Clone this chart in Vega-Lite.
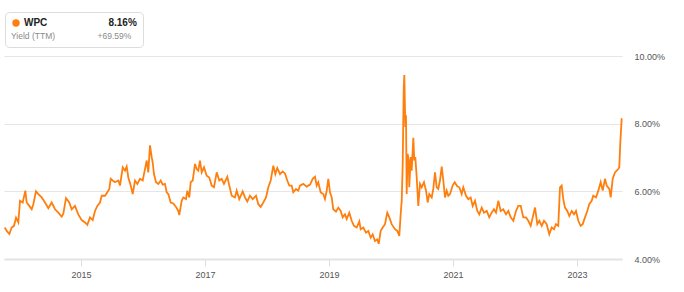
{
  "$schema": "https://vega.github.io/schema/vega-lite/v6.json",
  "width": 618,
  "height": 203,
  "autosize": {"type": "none"},
  "padding": {"left": 4, "top": 56, "right": 62, "bottom": 33},
  "background": "white",
  "config": {"view": {"stroke": null}, "font": "Liberation Sans"},
  "data": {"values": [
    {"t": 2013.769, "y": 4.93, "s": "WPC"},
    {"t": 2013.802, "y": 4.83, "s": "WPC"},
    {"t": 2013.844, "y": 4.74, "s": "WPC"},
    {"t": 2013.882, "y": 4.93, "s": "WPC"},
    {"t": 2013.919, "y": 4.98, "s": "WPC"},
    {"t": 2013.952, "y": 5.22, "s": "WPC"},
    {"t": 2013.989, "y": 5.08, "s": "WPC"},
    {"t": 2014.016, "y": 5.72, "s": "WPC"},
    {"t": 2014.060, "y": 5.67, "s": "WPC"},
    {"t": 2014.102, "y": 6.02, "s": "WPC"},
    {"t": 2014.124, "y": 5.67, "s": "WPC"},
    {"t": 2014.166, "y": 5.57, "s": "WPC"},
    {"t": 2014.205, "y": 5.47, "s": "WPC"},
    {"t": 2014.231, "y": 5.62, "s": "WPC"},
    {"t": 2014.274, "y": 6.00, "s": "WPC"},
    {"t": 2014.311, "y": 5.92, "s": "WPC"},
    {"t": 2014.366, "y": 5.82, "s": "WPC"},
    {"t": 2014.419, "y": 5.67, "s": "WPC"},
    {"t": 2014.473, "y": 5.50, "s": "WPC"},
    {"t": 2014.527, "y": 5.67, "s": "WPC"},
    {"t": 2014.581, "y": 5.47, "s": "WPC"},
    {"t": 2014.634, "y": 5.37, "s": "WPC"},
    {"t": 2014.689, "y": 5.25, "s": "WPC"},
    {"t": 2014.715, "y": 5.34, "s": "WPC"},
    {"t": 2014.758, "y": 5.80, "s": "WPC"},
    {"t": 2014.811, "y": 5.67, "s": "WPC"},
    {"t": 2014.850, "y": 5.47, "s": "WPC"},
    {"t": 2014.903, "y": 5.57, "s": "WPC"},
    {"t": 2014.956, "y": 5.32, "s": "WPC"},
    {"t": 2015.011, "y": 5.15, "s": "WPC"},
    {"t": 2015.065, "y": 5.08, "s": "WPC"},
    {"t": 2015.102, "y": 5.01, "s": "WPC"},
    {"t": 2015.145, "y": 5.23, "s": "WPC"},
    {"t": 2015.189, "y": 5.15, "s": "WPC"},
    {"t": 2015.226, "y": 5.42, "s": "WPC"},
    {"t": 2015.263, "y": 5.57, "s": "WPC"},
    {"t": 2015.306, "y": 5.67, "s": "WPC"},
    {"t": 2015.334, "y": 5.87, "s": "WPC"},
    {"t": 2015.387, "y": 5.87, "s": "WPC"},
    {"t": 2015.424, "y": 5.97, "s": "WPC"},
    {"t": 2015.456, "y": 6.07, "s": "WPC"},
    {"t": 2015.479, "y": 6.37, "s": "WPC"},
    {"t": 2015.511, "y": 6.32, "s": "WPC"},
    {"t": 2015.548, "y": 6.27, "s": "WPC"},
    {"t": 2015.602, "y": 6.32, "s": "WPC"},
    {"t": 2015.629, "y": 6.17, "s": "WPC"},
    {"t": 2015.673, "y": 6.71, "s": "WPC"},
    {"t": 2015.710, "y": 6.61, "s": "WPC"},
    {"t": 2015.737, "y": 6.73, "s": "WPC"},
    {"t": 2015.763, "y": 6.41, "s": "WPC"},
    {"t": 2015.802, "y": 6.17, "s": "WPC"},
    {"t": 2015.834, "y": 5.92, "s": "WPC"},
    {"t": 2015.871, "y": 6.32, "s": "WPC"},
    {"t": 2015.908, "y": 6.22, "s": "WPC"},
    {"t": 2015.952, "y": 6.37, "s": "WPC"},
    {"t": 2015.995, "y": 6.32, "s": "WPC"},
    {"t": 2016.016, "y": 6.51, "s": "WPC"},
    {"t": 2016.060, "y": 6.91, "s": "WPC"},
    {"t": 2016.085, "y": 6.56, "s": "WPC"},
    {"t": 2016.113, "y": 7.36, "s": "WPC"},
    {"t": 2016.140, "y": 7.01, "s": "WPC"},
    {"t": 2016.156, "y": 6.86, "s": "WPC"},
    {"t": 2016.177, "y": 6.51, "s": "WPC"},
    {"t": 2016.210, "y": 6.27, "s": "WPC"},
    {"t": 2016.247, "y": 6.22, "s": "WPC"},
    {"t": 2016.285, "y": 6.32, "s": "WPC"},
    {"t": 2016.318, "y": 6.20, "s": "WPC"},
    {"t": 2016.355, "y": 6.22, "s": "WPC"},
    {"t": 2016.382, "y": 5.97, "s": "WPC"},
    {"t": 2016.408, "y": 5.92, "s": "WPC"},
    {"t": 2016.447, "y": 5.67, "s": "WPC"},
    {"t": 2016.489, "y": 5.64, "s": "WPC"},
    {"t": 2016.532, "y": 5.54, "s": "WPC"},
    {"t": 2016.569, "y": 5.42, "s": "WPC"},
    {"t": 2016.585, "y": 5.30, "s": "WPC"},
    {"t": 2016.624, "y": 5.72, "s": "WPC"},
    {"t": 2016.650, "y": 5.82, "s": "WPC"},
    {"t": 2016.694, "y": 5.77, "s": "WPC"},
    {"t": 2016.715, "y": 6.02, "s": "WPC"},
    {"t": 2016.747, "y": 5.82, "s": "WPC"},
    {"t": 2016.769, "y": 6.27, "s": "WPC"},
    {"t": 2016.802, "y": 6.32, "s": "WPC"},
    {"t": 2016.839, "y": 6.81, "s": "WPC"},
    {"t": 2016.866, "y": 6.66, "s": "WPC"},
    {"t": 2016.892, "y": 6.61, "s": "WPC"},
    {"t": 2016.919, "y": 6.91, "s": "WPC"},
    {"t": 2016.947, "y": 6.56, "s": "WPC"},
    {"t": 2016.984, "y": 6.71, "s": "WPC"},
    {"t": 2017.027, "y": 6.46, "s": "WPC"},
    {"t": 2017.069, "y": 6.41, "s": "WPC"},
    {"t": 2017.108, "y": 6.17, "s": "WPC"},
    {"t": 2017.145, "y": 6.12, "s": "WPC"},
    {"t": 2017.189, "y": 6.56, "s": "WPC"},
    {"t": 2017.231, "y": 6.32, "s": "WPC"},
    {"t": 2017.269, "y": 6.37, "s": "WPC"},
    {"t": 2017.306, "y": 6.22, "s": "WPC"},
    {"t": 2017.360, "y": 6.43, "s": "WPC"},
    {"t": 2017.392, "y": 6.17, "s": "WPC"},
    {"t": 2017.431, "y": 5.87, "s": "WPC"},
    {"t": 2017.484, "y": 5.82, "s": "WPC"},
    {"t": 2017.511, "y": 6.02, "s": "WPC"},
    {"t": 2017.553, "y": 5.77, "s": "WPC"},
    {"t": 2017.608, "y": 6.00, "s": "WPC"},
    {"t": 2017.645, "y": 5.82, "s": "WPC"},
    {"t": 2017.682, "y": 5.70, "s": "WPC"},
    {"t": 2017.726, "y": 5.87, "s": "WPC"},
    {"t": 2017.769, "y": 5.77, "s": "WPC"},
    {"t": 2017.823, "y": 5.87, "s": "WPC"},
    {"t": 2017.860, "y": 5.62, "s": "WPC"},
    {"t": 2017.898, "y": 5.54, "s": "WPC"},
    {"t": 2017.940, "y": 5.67, "s": "WPC"},
    {"t": 2017.984, "y": 5.82, "s": "WPC"},
    {"t": 2018.021, "y": 6.12, "s": "WPC"},
    {"t": 2018.060, "y": 6.32, "s": "WPC"},
    {"t": 2018.102, "y": 6.76, "s": "WPC"},
    {"t": 2018.134, "y": 6.51, "s": "WPC"},
    {"t": 2018.166, "y": 6.69, "s": "WPC"},
    {"t": 2018.210, "y": 6.51, "s": "WPC"},
    {"t": 2018.253, "y": 6.59, "s": "WPC"},
    {"t": 2018.290, "y": 6.53, "s": "WPC"},
    {"t": 2018.327, "y": 6.32, "s": "WPC"},
    {"t": 2018.360, "y": 6.17, "s": "WPC"},
    {"t": 2018.398, "y": 6.17, "s": "WPC"},
    {"t": 2018.424, "y": 5.97, "s": "WPC"},
    {"t": 2018.468, "y": 6.07, "s": "WPC"},
    {"t": 2018.505, "y": 6.02, "s": "WPC"},
    {"t": 2018.532, "y": 6.17, "s": "WPC"},
    {"t": 2018.585, "y": 6.22, "s": "WPC"},
    {"t": 2018.640, "y": 6.14, "s": "WPC"},
    {"t": 2018.694, "y": 6.20, "s": "WPC"},
    {"t": 2018.737, "y": 6.37, "s": "WPC"},
    {"t": 2018.774, "y": 6.43, "s": "WPC"},
    {"t": 2018.802, "y": 6.17, "s": "WPC"},
    {"t": 2018.827, "y": 6.27, "s": "WPC"},
    {"t": 2018.866, "y": 5.97, "s": "WPC"},
    {"t": 2018.908, "y": 5.92, "s": "WPC"},
    {"t": 2018.935, "y": 5.77, "s": "WPC"},
    {"t": 2018.963, "y": 6.02, "s": "WPC"},
    {"t": 2018.989, "y": 6.37, "s": "WPC"},
    {"t": 2019.016, "y": 5.97, "s": "WPC"},
    {"t": 2019.044, "y": 5.82, "s": "WPC"},
    {"t": 2019.069, "y": 5.47, "s": "WPC"},
    {"t": 2019.113, "y": 5.40, "s": "WPC"},
    {"t": 2019.150, "y": 5.52, "s": "WPC"},
    {"t": 2019.189, "y": 5.42, "s": "WPC"},
    {"t": 2019.221, "y": 5.23, "s": "WPC"},
    {"t": 2019.258, "y": 5.32, "s": "WPC"},
    {"t": 2019.286, "y": 5.18, "s": "WPC"},
    {"t": 2019.327, "y": 5.37, "s": "WPC"},
    {"t": 2019.366, "y": 5.13, "s": "WPC"},
    {"t": 2019.403, "y": 4.98, "s": "WPC"},
    {"t": 2019.447, "y": 4.93, "s": "WPC"},
    {"t": 2019.489, "y": 5.11, "s": "WPC"},
    {"t": 2019.511, "y": 4.88, "s": "WPC"},
    {"t": 2019.553, "y": 4.93, "s": "WPC"},
    {"t": 2019.597, "y": 4.78, "s": "WPC"},
    {"t": 2019.634, "y": 4.83, "s": "WPC"},
    {"t": 2019.673, "y": 4.63, "s": "WPC"},
    {"t": 2019.705, "y": 4.73, "s": "WPC"},
    {"t": 2019.742, "y": 4.53, "s": "WPC"},
    {"t": 2019.779, "y": 4.58, "s": "WPC"},
    {"t": 2019.802, "y": 4.45, "s": "WPC"},
    {"t": 2019.834, "y": 4.83, "s": "WPC"},
    {"t": 2019.866, "y": 4.93, "s": "WPC"},
    {"t": 2019.903, "y": 5.03, "s": "WPC"},
    {"t": 2019.940, "y": 5.37, "s": "WPC"},
    {"t": 2019.973, "y": 5.23, "s": "WPC"},
    {"t": 2020.011, "y": 5.03, "s": "WPC"},
    {"t": 2020.065, "y": 4.88, "s": "WPC"},
    {"t": 2020.102, "y": 4.83, "s": "WPC"},
    {"t": 2020.134, "y": 4.68, "s": "WPC"},
    {"t": 2020.156, "y": 5.32, "s": "WPC"},
    {"t": 2020.173, "y": 5.72, "s": "WPC"},
    {"t": 2020.189, "y": 6.81, "s": "WPC"},
    {"t": 2020.205, "y": 9.04, "s": "WPC"},
    {"t": 2020.215, "y": 9.44, "s": "WPC"},
    {"t": 2020.231, "y": 7.90, "s": "WPC"},
    {"t": 2020.242, "y": 8.25, "s": "WPC"},
    {"t": 2020.253, "y": 5.92, "s": "WPC"},
    {"t": 2020.269, "y": 7.11, "s": "WPC"},
    {"t": 2020.286, "y": 6.91, "s": "WPC"},
    {"t": 2020.295, "y": 6.12, "s": "WPC"},
    {"t": 2020.318, "y": 7.01, "s": "WPC"},
    {"t": 2020.334, "y": 6.61, "s": "WPC"},
    {"t": 2020.360, "y": 7.58, "s": "WPC"},
    {"t": 2020.376, "y": 6.91, "s": "WPC"},
    {"t": 2020.392, "y": 7.01, "s": "WPC"},
    {"t": 2020.415, "y": 6.41, "s": "WPC"},
    {"t": 2020.440, "y": 5.57, "s": "WPC"},
    {"t": 2020.468, "y": 6.22, "s": "WPC"},
    {"t": 2020.495, "y": 6.12, "s": "WPC"},
    {"t": 2020.532, "y": 6.27, "s": "WPC"},
    {"t": 2020.565, "y": 6.02, "s": "WPC"},
    {"t": 2020.592, "y": 5.67, "s": "WPC"},
    {"t": 2020.618, "y": 5.92, "s": "WPC"},
    {"t": 2020.657, "y": 5.82, "s": "WPC"},
    {"t": 2020.682, "y": 6.07, "s": "WPC"},
    {"t": 2020.710, "y": 6.56, "s": "WPC"},
    {"t": 2020.737, "y": 6.12, "s": "WPC"},
    {"t": 2020.763, "y": 6.07, "s": "WPC"},
    {"t": 2020.790, "y": 6.32, "s": "WPC"},
    {"t": 2020.818, "y": 6.73, "s": "WPC"},
    {"t": 2020.844, "y": 6.32, "s": "WPC"},
    {"t": 2020.871, "y": 5.82, "s": "WPC"},
    {"t": 2020.898, "y": 6.02, "s": "WPC"},
    {"t": 2020.924, "y": 5.87, "s": "WPC"},
    {"t": 2020.952, "y": 5.92, "s": "WPC"},
    {"t": 2020.995, "y": 6.17, "s": "WPC"},
    {"t": 2021.027, "y": 6.27, "s": "WPC"},
    {"t": 2021.069, "y": 6.15, "s": "WPC"},
    {"t": 2021.102, "y": 6.12, "s": "WPC"},
    {"t": 2021.140, "y": 5.92, "s": "WPC"},
    {"t": 2021.166, "y": 6.12, "s": "WPC"},
    {"t": 2021.210, "y": 5.87, "s": "WPC"},
    {"t": 2021.247, "y": 5.77, "s": "WPC"},
    {"t": 2021.285, "y": 5.82, "s": "WPC"},
    {"t": 2021.318, "y": 5.57, "s": "WPC"},
    {"t": 2021.355, "y": 5.72, "s": "WPC"},
    {"t": 2021.392, "y": 5.42, "s": "WPC"},
    {"t": 2021.424, "y": 5.32, "s": "WPC"},
    {"t": 2021.463, "y": 5.52, "s": "WPC"},
    {"t": 2021.500, "y": 5.37, "s": "WPC"},
    {"t": 2021.544, "y": 5.42, "s": "WPC"},
    {"t": 2021.585, "y": 5.23, "s": "WPC"},
    {"t": 2021.624, "y": 5.37, "s": "WPC"},
    {"t": 2021.661, "y": 5.47, "s": "WPC"},
    {"t": 2021.694, "y": 5.37, "s": "WPC"},
    {"t": 2021.731, "y": 5.72, "s": "WPC"},
    {"t": 2021.769, "y": 5.42, "s": "WPC"},
    {"t": 2021.811, "y": 5.47, "s": "WPC"},
    {"t": 2021.855, "y": 5.32, "s": "WPC"},
    {"t": 2021.892, "y": 5.42, "s": "WPC"},
    {"t": 2021.931, "y": 5.23, "s": "WPC"},
    {"t": 2021.973, "y": 5.13, "s": "WPC"},
    {"t": 2022.016, "y": 5.42, "s": "WPC"},
    {"t": 2022.053, "y": 5.57, "s": "WPC"},
    {"t": 2022.092, "y": 5.57, "s": "WPC"},
    {"t": 2022.134, "y": 5.23, "s": "WPC"},
    {"t": 2022.177, "y": 5.23, "s": "WPC"},
    {"t": 2022.215, "y": 5.13, "s": "WPC"},
    {"t": 2022.253, "y": 4.98, "s": "WPC"},
    {"t": 2022.286, "y": 5.23, "s": "WPC"},
    {"t": 2022.323, "y": 5.52, "s": "WPC"},
    {"t": 2022.360, "y": 5.03, "s": "WPC"},
    {"t": 2022.392, "y": 5.13, "s": "WPC"},
    {"t": 2022.431, "y": 4.98, "s": "WPC"},
    {"t": 2022.468, "y": 5.13, "s": "WPC"},
    {"t": 2022.511, "y": 5.03, "s": "WPC"},
    {"t": 2022.553, "y": 4.73, "s": "WPC"},
    {"t": 2022.592, "y": 4.93, "s": "WPC"},
    {"t": 2022.629, "y": 4.88, "s": "WPC"},
    {"t": 2022.661, "y": 5.03, "s": "WPC"},
    {"t": 2022.698, "y": 4.98, "s": "WPC"},
    {"t": 2022.726, "y": 6.12, "s": "WPC"},
    {"t": 2022.753, "y": 6.17, "s": "WPC"},
    {"t": 2022.779, "y": 5.77, "s": "WPC"},
    {"t": 2022.806, "y": 5.52, "s": "WPC"},
    {"t": 2022.844, "y": 5.42, "s": "WPC"},
    {"t": 2022.876, "y": 5.27, "s": "WPC"},
    {"t": 2022.915, "y": 5.42, "s": "WPC"},
    {"t": 2022.952, "y": 5.32, "s": "WPC"},
    {"t": 2022.984, "y": 5.42, "s": "WPC"},
    {"t": 2023.021, "y": 5.13, "s": "WPC"},
    {"t": 2023.060, "y": 4.98, "s": "WPC"},
    {"t": 2023.092, "y": 5.03, "s": "WPC"},
    {"t": 2023.129, "y": 5.23, "s": "WPC"},
    {"t": 2023.166, "y": 5.42, "s": "WPC"},
    {"t": 2023.198, "y": 5.62, "s": "WPC"},
    {"t": 2023.237, "y": 5.72, "s": "WPC"},
    {"t": 2023.263, "y": 5.87, "s": "WPC"},
    {"t": 2023.306, "y": 5.82, "s": "WPC"},
    {"t": 2023.344, "y": 6.02, "s": "WPC"},
    {"t": 2023.382, "y": 6.27, "s": "WPC"},
    {"t": 2023.415, "y": 6.02, "s": "WPC"},
    {"t": 2023.452, "y": 6.37, "s": "WPC"},
    {"t": 2023.479, "y": 6.17, "s": "WPC"},
    {"t": 2023.521, "y": 6.07, "s": "WPC"},
    {"t": 2023.544, "y": 5.82, "s": "WPC"},
    {"t": 2023.576, "y": 6.37, "s": "WPC"},
    {"t": 2023.613, "y": 6.56, "s": "WPC"},
    {"t": 2023.640, "y": 6.61, "s": "WPC"},
    {"t": 2023.666, "y": 6.66, "s": "WPC"},
    {"t": 2023.682, "y": 6.71, "s": "WPC"},
    {"t": 2023.698, "y": 7.41, "s": "WPC"},
    {"t": 2023.721, "y": 8.16, "s": "WPC"}
  ]},
  "mark": {"type": "line", "strokeWidth": 1.8, "interpolate": "linear", "strokeJoin": "miter"},
  "encoding": {
    "x": {
      "field": "t", "type": "quantitative",
      "scale": {"domain": [2013.758, 2023.726], "nice": false, "zero": false},
      "axis": {
        "values": [2015, 2017, 2019, 2021, 2023], "format": "d", "title": null,
        "grid": false, "domain": true, "domainColor": "#e3e3e3", "domainWidth": 2,
        "tickColor": "#dedede", "tickSize": 7, "labelFontSize": 9, "labelColor": "#555555",
        "labelPadding": 4, "labelFlush": false
      }
    },
    "y": {
      "field": "y", "type": "quantitative",
      "scale": {"domain": [4, 10], "nice": false, "zero": false},
      "axis": {
        "orient": "right", "values": [4, 6, 8, 10],
        "labelExpr": "format(datum.value, '.2f') + '%'", "title": null,
        "domain": false, "ticks": false, "tickSize": 0, "labelPadding": 12,
        "labelFontSize": 9, "labelColor": "#555555", "gridColor": "#e6e6e6", "gridWidth": 1
      }
    },
    "color": {
      "field": "s", "type": "nominal",
      "scale": {"domain": ["WPC"], "range": ["#ff7f0e"]},
      "legend": {
        "orient": "none", "legendX": 1, "legendY": -44, "direction": "vertical",
        "title": "Yield (TTM)\u00a0\u00a0\u00a0\u00a0\u00a0\u00a0\u00a0\u00a0\u00a0\u00a0\u00a0\u00a0\u00a0\u00a0\u00a0\u00a0\u00a0\u00a0+69.59%",
        "titleOrient": "bottom", "titleFontSize": 8.5, "titleFontWeight": "normal",
        "titleColor": "#8a8a8a", "titlePadding": 4, "titleLimit": 300,
        "symbolType": "circle", "symbolSize": 55, "symbolStrokeWidth": 0,
        "symbolFillColor": "#ff7f0e",
        "labelFontSize": 10, "labelFontWeight": "bold", "labelColor": "#222222",
        "labelOffset": 3, "labelLimit": 300,
        "labelExpr": "datum.label + '\u00a0\u00a0\u00a0\u00a0\u00a0\u00a0\u00a0\u00a0\u00a0\u00a0\u00a0\u00a0\u00a0\u00a0\u00a0\u00a0\u00a0\u00a0\u00a0\u00a0\u00a0\u00a08.16%'",
        "padding": 6, "strokeColor": "#dcdcdc", "cornerRadius": 4, "fillColor": "white",
        "encode": {"symbols": {"update": {"fill": {"value": "#ff7f0e"}, "strokeWidth": {"value": 0}}}}
      }
    }
  }
}
